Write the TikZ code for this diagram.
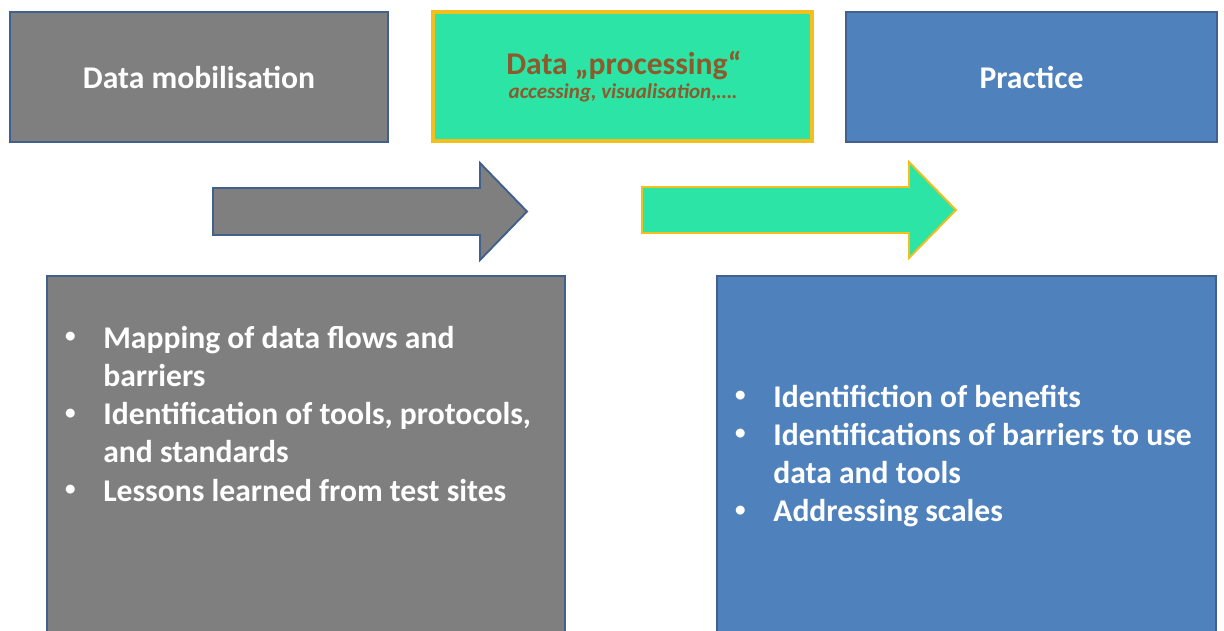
\documentclass[tikz,border=0pt]{standalone}
\usepackage{fontspec}
\setmainfont{Carlito}
\usepackage{tikz}

\definecolor{boxgray}{HTML}{7F7F7F}
\definecolor{edgeblue}{HTML}{41618C}
\definecolor{boxblue}{HTML}{4F81BD}
\definecolor{boxteal}{HTML}{2CE4A6}
\definecolor{edgegold}{HTML}{F2BF1D}
\definecolor{txtbrown}{HTML}{8C5A2B}

\newcommand{\bitem}[1]{\noindent\hangindent=0.8cm\hangafter=1\makebox[0.8cm][l]{\hspace{1pt}\raisebox{0.35ex}{\fontsize{12}{12}\selectfont\textbullet}}#1\par}

\begin{document}
\begin{tikzpicture}[x=0.02cm, y=-0.02cm,
	mobbox/.style={draw=edgeblue, fill=boxgray, line width=1.6pt, inner sep=0pt},
	procbox/.style={draw=edgegold, fill=boxteal, line width=2.2pt, inner sep=0pt},
	pracbox/.style={draw=edgeblue, fill=boxblue, line width=1.6pt, inner sep=0pt},
	headtxt/.style={text=white, font=\fontsize{18}{21.8}\selectfont\bfseries},
	listtxt/.style={text=white, anchor=base west, inner sep=0pt, font=\fontsize{18}{21.8}\selectfont\bfseries}]
					% Paths, nodes and boxes:
					\clip (0,0) rectangle (1224,630);
					\fill[white] (0,0) rectangle (1224,630);
					\node[mobbox, minimum width=7.56cm, minimum height=2.6cm](mob) at (199, 77){};
					\node[headtxt] at (mob.center){Data mobilisation};
					\node[procbox, minimum width=7.58cm, minimum height=2.58cm](proc) at (622.5, 76.5){};
					\node[text=txtbrown, anchor=base, inner sep=0pt, font=\fontsize{18}{21.8}\selectfont\bfseries](ptitle) at (624, 74){Data „processing“};
					\node[text=txtbrown, anchor=base, inner sep=0pt, font=\fontsize{12}{13}\selectfont\bfseries\itshape](psub) at (623, 98){accessing, visualisation,….};
					\node[pracbox, minimum width=7.42cm, minimum height=2.6cm](prac) at (1031.5, 77){};
					\node[headtxt] at (prac.center){Practice};
					\draw[draw=edgeblue, fill=boxgray, line width=1.1pt, line join=miter] (213, 188) -- (480, 188) -- (480, 163) -- (527, 211.5) -- (480, 260) -- (480, 235) -- (213, 235) -- cycle;
					\draw[draw=edgegold, fill=boxteal, line width=1.1pt, line join=miter] (642, 187) -- (909, 187) -- (909, 162) -- (956, 210) -- (909, 258) -- (909, 233) -- (642, 233) -- cycle;
					\node[mobbox, minimum width=10.36cm, minimum height=7.48cm](moblist) at (306, 463){};
					\node[listtxt](mobitems) at (63, 348){\parbox[t]{10cm}{\raggedright
						\bitem{Mapping of data flows and\newline barriers}
						\bitem{Identification of tools, protocols,\newline and standards}
						\bitem{Lessons learned from test sites}}};
					\node[pracbox, minimum width=9.98cm, minimum height=7.48cm](praclist) at (966.5, 463){};
					\node[listtxt](pracitems) at (733, 407){\parbox[t]{10cm}{\raggedright
						\bitem{Identifiction of benefits}
						\bitem{Identifications of barriers to use\newline data and tools}
						\bitem{Addressing scales}}};
				\end{tikzpicture}
\end{document}
